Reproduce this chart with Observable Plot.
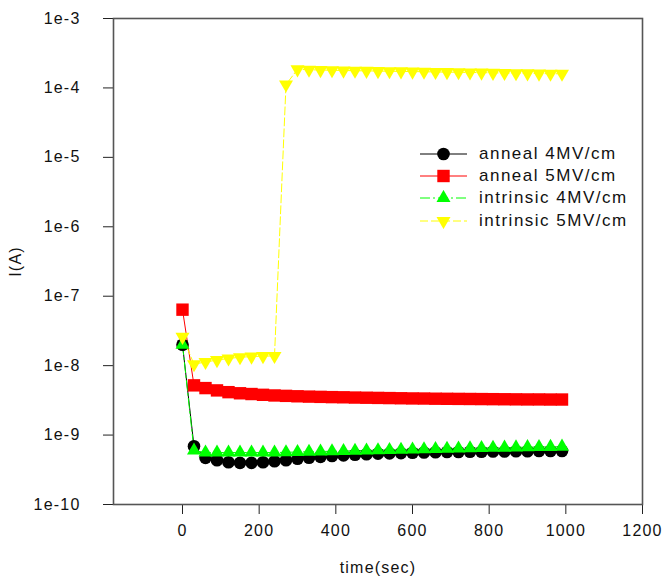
<!DOCTYPE html>
<html>
<head>
<meta charset="utf-8">
<script src="https://cdn.jsdelivr.net/npm/d3@7"></script>
<script src="https://cdn.jsdelivr.net/npm/@observablehq/plot@0.6"></script>
<style>
  html, body { margin: 0; padding: 0; background: #fff; }
  #wrap { position: relative; width: 666px; height: 579px; font-family: Arial, "Liberation Sans", sans-serif; }
  #wrap svg text { letter-spacing: 1.2px; }
  #legend { position: absolute; left: 420px; top: 143px; font-size: 17px; letter-spacing: 1.5px; color: #111; }
  .row { display: flex; align-items: center; height: 22.2px; }
  .row svg { margin-right: 12px; }
</style>
</head>
<body>
<div id="wrap"></div>
<script>
const times = [0,30,60,90,120,150,180,210,240,270,300,330,360,390,420,450,480,510,540,570,600,630,660,690,720,750,780,810,840,870,900,930,960,990];

const anneal4 = [2.0e-8,6.9e-10,4.7e-10,4.35e-10,4.07e-10,3.98e-10,3.98e-10,4.07e-10,4.2e-10,4.35e-10,4.55e-10,4.71e-10,4.86e-10,5.0e-10,5.1e-10,5.2e-10,5.3e-10,5.4e-10,5.45e-10,5.5e-10,5.55e-10,5.6e-10,5.65e-10,5.7e-10,5.7e-10,5.75e-10,5.75e-10,5.8e-10,5.8e-10,5.85e-10,5.85e-10,5.9e-10,5.9e-10,5.9e-10];

const anneal5 = [6.4e-8,5.2e-9,4.75e-9,4.4e-9,4.15e-9,4.0e-9,3.9e-9,3.8e-9,3.72e-9,3.67e-9,3.62e-9,3.58e-9,3.55e-9,3.52e-9,3.5e-9,3.47e-9,3.45e-9,3.43e-9,3.41e-9,3.39e-9,3.37e-9,3.36e-9,3.34e-9,3.33e-9,3.32e-9,3.31e-9,3.3e-9,3.29e-9,3.28e-9,3.27e-9,3.26e-9,3.26e-9,3.25e-9,3.25e-9];

const intrinsic4 = [2.0e-8,6.0e-10,5.6e-10,5.6e-10,5.6e-10,5.6e-10,5.6e-10,5.6e-10,5.6e-10,5.65e-10,5.7e-10,5.75e-10,5.8e-10,5.85e-10,5.9e-10,5.95e-10,6.0e-10,6.05e-10,6.1e-10,6.15e-10,6.2e-10,6.25e-10,6.3e-10,6.35e-10,6.4e-10,6.45e-10,6.5e-10,6.55e-10,6.6e-10,6.65e-10,6.7e-10,6.72e-10,6.75e-10,6.8e-10];

const intrinsic5 = [2.6e-8,1.05e-8,1.13e-8,1.2e-8,1.27e-8,1.32e-8,1.35e-8,1.37e-8,1.38e-8,1.12e-4,1.85e-4,1.83e-4,1.81e-4,1.8e-4,1.78e-4,1.77e-4,1.76e-4,1.75e-4,1.74e-4,1.73e-4,1.72e-4,1.71e-4,1.7e-4,1.69e-4,1.68e-4,1.67e-4,1.66e-4,1.65e-4,1.64e-4,1.63e-4,1.62e-4,1.61e-4,1.6e-4,1.6e-4];

const seriesNames = ["anneal 4MV/cm","anneal 5MV/cm","intrinsic 4MV/cm","intrinsic 5MV/cm"];
const xTicks = [0,200,400,600,800,1000,1200];
const yTicks = [1e-10,1e-9,1e-8,1e-7,1e-6,1e-5,1e-4,1e-3];

const seriesValues = [anneal4, anneal5, intrinsic4, intrinsic5];
const styles = [
  {color: "#000000", symbol: "circle", r: 6.3, rotate: 0, dash: null},
  {color: "#ff0000", symbol: "square", r: 7, rotate: 0, dash: null},
  {color: "#00ff00", symbol: "triangle", r: 5.2, rotate: 0, dash: "10,3,2,3"},
  {color: "#ffff00", symbol: "triangle", r: 5.2, rotate: 180, dash: "8,3"}
];

const marks = [];
seriesValues.forEach((vals, k) => {
  const data = times.map((t, i) => ({t, v: vals[i]}));
  const s = styles[k];
  marks.push(Plot.line(data, {x: "t", y: "v", stroke: s.color, strokeWidth: 1, strokeDasharray: s.dash}));
});
seriesValues.forEach((vals, k) => {
  const data = times.map((t, i) => ({t, v: vals[i]}));
  const s = styles[k];
  marks.push(Plot.dot(data, {x: "t", y: "v", fill: s.color, stroke: "none", symbol: s.symbol, r: s.r, rotate: s.rotate}));
});

const fmt = d => "1e" + Math.round(Math.log10(d));

const chart = Plot.plot({
  width: 666,
  height: 579,
  marginLeft: 113,
  marginRight: 24,
  marginTop: 18,
  marginBottom: 75,
  style: {fontFamily: "Arial, 'Liberation Sans', sans-serif", fontSize: "16px", color: "#111", background: "#fff"},
  x: {domain: [-180, 1200]},
  y: {type: "log", domain: [1e-10, 1e-3]},
  marks: [
    Plot.axisX({ticks: xTicks, tickFormat: d => String(d), tickSize: 10, tickPadding: 10, stroke: "#222", fontSize: 16,
      label: "time(sec)", labelAnchor: "center", labelArrow: "none", labelOffset: 68}),
    Plot.axisY({ticks: yTicks, tickFormat: fmt, tickSize: 10, tickPadding: 23, stroke: "#222", fontSize: 16,
      label: "I(A)", labelAnchor: "center", labelArrow: "none", labelOffset: 104}),
    Plot.frame({stroke: "#555", strokeWidth: 1.6}),
    ...marks
  ]
});

const wrap = document.getElementById("wrap");
wrap.appendChild(chart);

// legend
const legend = document.createElement("div");
legend.id = "legend";
seriesNames.forEach((name, k) => {
  const s = styles[k];
  const row = document.createElement("div");
  row.className = "row";
  const sym = d3.create("svg").attr("width", 47).attr("height", 16);
  sym.append("line").attr("x1", 0).attr("x2", 47).attr("y1", 8).attr("y2", 8)
    .attr("stroke", s.color).attr("stroke-width", 1).attr("stroke-dasharray", s.dash);
  const symType = s.symbol === "circle" ? d3.symbolCircle : s.symbol === "square" ? d3.symbolSquare : d3.symbolTriangle;
  sym.append("path").attr("d", d3.symbol(symType, Math.PI * s.r * s.r)())
    .attr("transform", `translate(23.5,8) rotate(${s.rotate})`).attr("fill", s.color);
  row.appendChild(sym.node());
  const span = document.createElement("span");
  span.textContent = name;
  row.appendChild(span);
  legend.appendChild(row);
});
wrap.appendChild(legend);
</script>
</body>
</html>
